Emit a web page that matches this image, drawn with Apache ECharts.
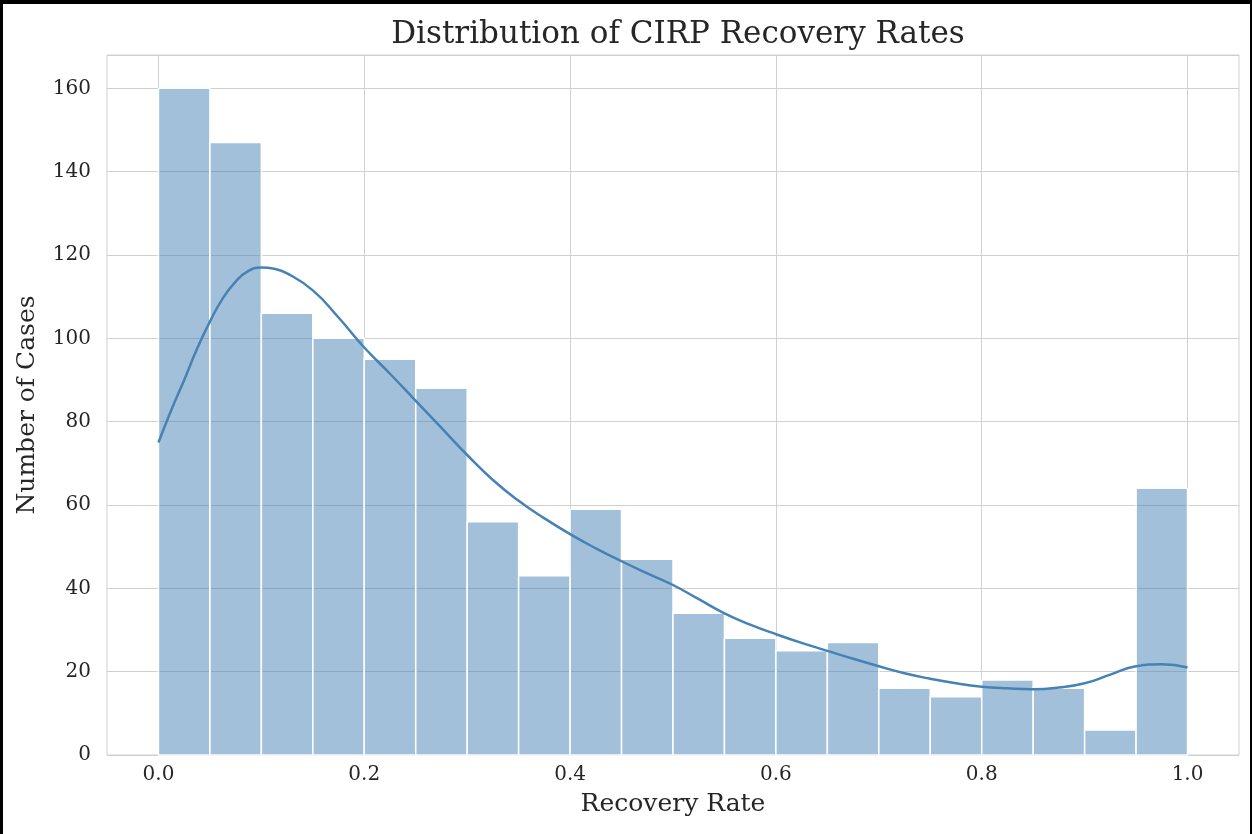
<!DOCTYPE html>
<html>
<head>
<meta charset="utf-8">
<title>Distribution of CIRP Recovery Rates</title>
<script src="https://cdn.jsdelivr.net/npm/echarts@6/dist/echarts.min.js"></script>
<style>
  html, body { margin: 0; padding: 0; background: #ffffff; }
  #chart { width: 1252px; height: 834px; }
</style>
</head>
<body>
<div id="chart"></div>
<script>
// Histogram bins (left edges, width 0.05) and case counts
const binStarts = [0.00, 0.05, 0.10, 0.15, 0.20, 0.25, 0.30, 0.35, 0.40, 0.45,
                   0.50, 0.55, 0.60, 0.65, 0.70, 0.75, 0.80, 0.85, 0.90, 0.95];
const binWidth = 0.05;
const counts = [160, 147, 106, 100, 95, 88, 56, 43, 59, 47,
                34, 28, 25, 27, 16, 14, 18, 16, 6, 64];

// Kernel density estimate, scaled to counts
const kdeX = [0, 0.0125, 0.025, 0.0375, 0.05, 0.0625, 0.075, 0.0875, 0.1, 0.1125,
              0.125, 0.15, 0.175, 0.2, 0.225, 0.25, 0.275, 0.3, 0.325, 0.35, 0.375,
              0.4, 0.425, 0.45, 0.475, 0.5, 0.525, 0.55, 0.575, 0.6, 0.625, 0.65,
              0.675, 0.7, 0.725, 0.75, 0.775, 0.8, 0.825, 0.85, 0.875, 0.9, 0.925,
              0.95, 0.975, 1.0];
const kdeY = [75, 82.8, 90, 97.5, 104, 109.6, 113.6, 116.2, 117, 116.7,
              115.6, 111.5, 105, 97.8, 91.5, 85, 78.5, 72, 66, 61, 56.8,
              53, 49.6, 46.5, 43.6, 40.8, 37.4, 34, 31.3, 29, 26.9, 25,
              23.1, 21.3, 19.6, 18.3, 17.2, 16.4, 16, 15.8, 16.2, 17.2, 19.3,
              21.3, 21.8, 21];

// Axis ticks
const xTicks = [0.0, 0.2, 0.4, 0.6, 0.8, 1.0];
const yTicks = [0, 20, 40, 60, 80, 100, 120, 140, 160];

const FONT = "'DejaVu Serif', 'Liberation Serif', serif";
const TEXT = '#262626';
const GRID = '#d0d0d0';

const chart = echarts.init(document.getElementById('chart'), null, { renderer: 'canvas' });

const histData = binStarts.map((s, i) => [s, s + binWidth, counts[i]]);
const kdeData = kdeX.map((x, i) => [x, kdeY[i]]);

chart.setOption({
  animation: false,
  backgroundColor: '#ffffff',
  title: {
    text: 'Distribution of CIRP Recovery Rates',
    left: 673,
    textAlign: 'center',
    top: 14,
    textStyle: { fontFamily: FONT, fontSize: 31, fontWeight: 'normal', color: TEXT }
  },
  grid: {
    left: 107, right: 13, top: 55, bottom: 79,
    show: true, borderColor: GRID, borderWidth: 1, backgroundColor: 'transparent'
  },
  xAxis: {
    type: 'value',
    min: -0.05,
    max: 1.05,
    name: 'Recovery Rate',
    nameLocation: 'middle',
    nameGap: 37,
    nameTextStyle: { fontFamily: FONT, fontSize: 25, color: TEXT },
    axisLine: { show: false },
    axisTick: { show: false, customValues: xTicks },
    axisLabel: {
      customValues: xTicks,
      margin: 10,
      fontFamily: FONT, fontSize: 20, color: TEXT,
      formatter: v => v.toFixed(1)
    },
    splitLine: { show: true, lineStyle: { color: GRID, width: 1 } }
  },
  yAxis: {
    type: 'value',
    min: 0,
    max: 168,
    interval: 20,
    name: 'Number of Cases',
    nameLocation: 'middle',
    nameGap: 67,
    nameTextStyle: { fontFamily: FONT, fontSize: 25, color: TEXT },
    axisLine: { show: false },
    axisTick: { show: false },
    axisLabel: {
      margin: 16,
      showMaxLabel: false,
      fontFamily: FONT, fontSize: 20, color: TEXT,
      formatter: v => (yTicks.includes(v) ? String(v) : '')
    },
    splitLine: { show: true, lineStyle: { color: GRID, width: 1 } }
  },
  graphic: [
    // image frame on the left, top and right edges
    { type: 'rect', left: 0, top: 0, shape: { width: 3, height: 834 }, style: { fill: '#000' }, z: 100 },
    { type: 'rect', left: 0, top: 0, shape: { width: 1252, height: 4 }, style: { fill: '#000' }, z: 100 },
    { type: 'rect', left: 1250, top: 0, shape: { width: 2, height: 834 }, style: { fill: '#000' }, z: 100 }
  ],
  series: [
    {
      type: 'custom',
      name: 'Cases',
      data: histData,
      encode: { x: [0, 1], y: 2 },
      renderItem: function (params, api) {
        const p0 = api.coord([api.value(0), api.value(2)]);
        const p1 = api.coord([api.value(1), 0]);
        return {
          type: 'rect',
          shape: { x: p0[0], y: p0[1], width: p1[0] - p0[0], height: p1[1] - p0[1] },
          style: { fill: 'rgba(70,130,180,0.5)', stroke: '#ffffff', lineWidth: 1.5 }
        };
      },
      z: 2
    },
    {
      type: 'line',
      name: 'KDE',
      data: kdeData,
      smooth: true,
      showSymbol: false,
      lineStyle: { color: '#4682b4', width: 2.5 },
      z: 3
    }
  ]
});
</script>
</body>
</html>
